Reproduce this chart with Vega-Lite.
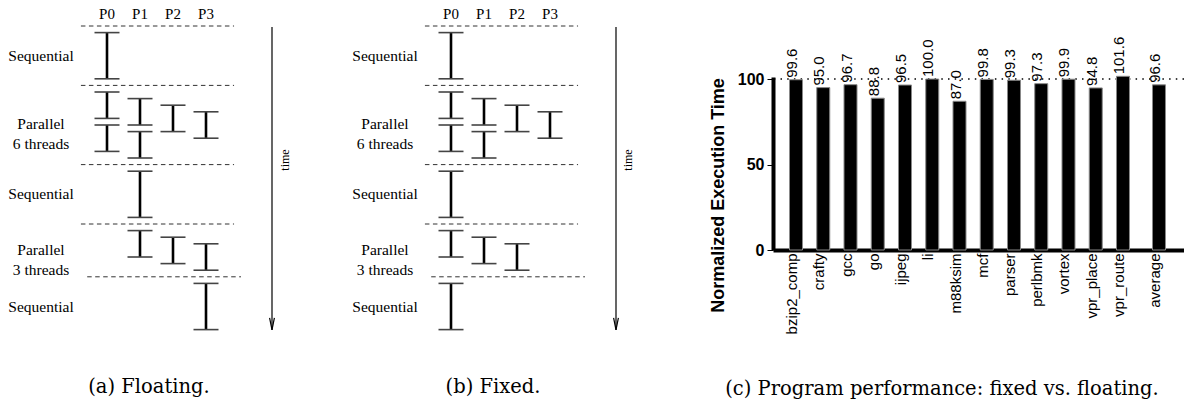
{
  "$schema": "https://vega.github.io/schema/vega-lite/v6.json",
  "padding": 0,
  "spacing": 0,
  "bounds": "flush",
  "center": true,
  "config": {"view": {"stroke": null}, "font": "Liberation Sans", "axis": {"grid": false}},
  "datasets": {
    "floating": [
      {"proc": 0, "start": 1, "end": 8},
      {"proc": 0, "start": 10, "end": 14},
      {"proc": 0, "start": 15, "end": 19},
      {"proc": 1, "start": 11, "end": 15},
      {"proc": 1, "start": 16, "end": 20},
      {"proc": 2, "start": 12, "end": 16},
      {"proc": 3, "start": 13, "end": 17},
      {"proc": 1, "start": 22, "end": 29},
      {"proc": 1, "start": 31, "end": 35},
      {"proc": 2, "start": 32, "end": 36},
      {"proc": 3, "start": 33, "end": 37},
      {"proc": 3, "start": 39, "end": 46}
    ],
    "fixed": [
      {"proc": 0, "start": 1, "end": 8},
      {"proc": 0, "start": 10, "end": 14},
      {"proc": 0, "start": 15, "end": 19},
      {"proc": 1, "start": 11, "end": 15},
      {"proc": 1, "start": 16, "end": 20},
      {"proc": 2, "start": 12, "end": 16},
      {"proc": 3, "start": 13, "end": 17},
      {"proc": 0, "start": 22, "end": 29},
      {"proc": 0, "start": 31, "end": 35},
      {"proc": 1, "start": 32, "end": 36},
      {"proc": 2, "start": 33, "end": 37},
      {"proc": 0, "start": 39, "end": 46}
    ],
    "bounds": [
      {"from": -0.79, "to": 3.85, "at": 0},
      {"from": -0.79, "to": 3.85, "at": 9},
      {"from": -0.79, "to": 3.85, "at": 21},
      {"from": -0.79, "to": 3.85, "at": 30},
      {"from": -0.6, "to": 4.06, "at": 38}
    ],
    "phases": [
      {"mid": 4.5, "label": "Sequential"},
      {"mid": 14.8, "label": "Parallel\n6 threads"},
      {"mid": 25.5, "label": "Sequential"},
      {"mid": 33.9, "label": "Parallel\n3 threads"},
      {"mid": 42.5, "label": "Sequential"}
    ],
    "procs": [
      {"proc": 0, "name": "P0"},
      {"proc": 1, "name": "P1"},
      {"proc": 2, "name": "P2"},
      {"proc": 3, "name": "P3"}
    ],
    "perf": [
      {"bench": "bzip2_comp", "time": 99.6, "group": "benchmark"},
      {"bench": "crafty", "time": 95.0, "group": "benchmark"},
      {"bench": "gcc", "time": 96.7, "group": "benchmark"},
      {"bench": "go", "time": 88.8, "group": "benchmark"},
      {"bench": "ijpeg", "time": 96.5, "group": "benchmark"},
      {"bench": "li", "time": 100.0, "group": "benchmark"},
      {"bench": "m88ksim", "time": 87.0, "group": "benchmark"},
      {"bench": "mcf", "time": 99.8, "group": "benchmark"},
      {"bench": "parser", "time": 99.3, "group": "benchmark"},
      {"bench": "perlbmk", "time": 97.3, "group": "benchmark"},
      {"bench": "vortex", "time": 99.9, "group": "benchmark"},
      {"bench": "vpr_place", "time": 94.8, "group": "benchmark"},
      {"bench": "vpr_route", "time": 101.6, "group": "benchmark"},
      {"bench": "average", "time": 96.6, "group": "summary"}
    ]
  },
  "hconcat": [
    {
      "width": 344,
      "height": 327,
      "title": {"text": "(a) Floating.", "orient": "bottom", "anchor": "middle", "offset": 46, "dx": -23, "font": "DejaVu Serif", "fontSize": 19.5, "fontWeight": "normal", "color": "black"},
      "layer": [
        {
          "data": {"name": "bounds"},
          "mark": {"type": "rule", "color": "#333", "strokeWidth": 1, "strokeDash": [4.5, 3.5]},
          "encoding": {
            "x": {"field": "from", "type": "quantitative", "scale": {"domain": [-3.2424, 7.1818], "nice": false, "zero": false}, "axis": null},
            "x2": {"field": "to"},
            "y": {"field": "at", "type": "quantitative", "scale": {"domain": [-3.9394, 45.606], "reverse": true, "nice": false, "zero": false}, "axis": null}
          }
        },
        {
          "data": {"name": "floating"},
          "mark": {"type": "rule", "color": "black", "strokeWidth": 2.6},
          "encoding": {
            "x": {"field": "proc", "type": "quantitative"},
            "y": {"field": "start", "type": "quantitative"},
            "y2": {"field": "end"}
          }
        },
        {
          "data": {"name": "floating"},
          "mark": {"type": "tick", "orient": "horizontal", "size": 25, "thickness": 1.6, "color": "#444", "opacity": 1},
          "encoding": {
            "x": {"field": "proc", "type": "quantitative"},
            "y": {"field": "start", "type": "quantitative"}
          }
        },
        {
          "data": {"name": "floating"},
          "mark": {"type": "tick", "orient": "horizontal", "size": 25, "thickness": 1.6, "color": "#444", "opacity": 1},
          "encoding": {
            "x": {"field": "proc", "type": "quantitative"},
            "y": {"field": "end", "type": "quantitative"}
          }
        },
        {
          "data": {"name": "phases"},
          "mark": {"type": "text", "font": "Liberation Serif", "fontSize": 15.5, "lineBreak": "\n", "lineHeight": 20, "baseline": "middle", "align": "center", "color": "black"},
          "encoding": {
            "x": {"datum": -2},
            "y": {"field": "mid", "type": "quantitative"},
            "text": {"field": "label"}
          }
        },
        {
          "data": {"name": "procs"},
          "mark": {"type": "text", "font": "Liberation Serif", "fontSize": 15, "baseline": "middle", "align": "center", "color": "black"},
          "encoding": {
            "x": {"field": "proc", "type": "quantitative"},
            "y": {"datum": -1.75},
            "text": {"field": "name"}
          }
        },
        {
          "data": {"values": [{}]},
          "mark": {"type": "rule", "strokeWidth": 1.2, "color": "black"},
          "encoding": {"x": {"datum": 5}, "y": {"datum": 0.15}, "y2": {"datum": 46.06}}
        },
        {
          "data": {"values": [{}]},
          "mark": {"type": "point", "shape": "M-0.4,-1L0,1L0.4,-1", "filled": false, "size": 144, "stroke": "black", "strokeWidth": 1.2, "opacity": 1},
          "encoding": {"x": {"datum": 5}, "y": {"datum": 45.15}}
        },
        {
          "data": {"values": [{}]},
          "mark": {"type": "text", "text": "time", "angle": 270, "font": "Liberation Serif", "fontSize": 12, "align": "center", "baseline": "alphabetic", "color": "black"},
          "encoding": {"x": {"datum": 5.5}, "y": {"datum": 20.3}}
        }
      ]
    },
    {
      "width": 429,
      "height": 327,
      "title": {"text": "(b) Fixed.", "orient": "bottom", "anchor": "middle", "offset": 46, "dx": -65.5, "font": "DejaVu Serif", "fontSize": 19.5, "fontWeight": "normal", "color": "black"},
      "layer": [
        {
          "data": {"name": "bounds"},
          "mark": {"type": "rule", "color": "#333", "strokeWidth": 1, "strokeDash": [4.5, 3.5]},
          "encoding": {
            "x": {"field": "from", "type": "quantitative", "scale": {"domain": [-3.2424, 9.7576], "nice": false, "zero": false}, "axis": null},
            "x2": {"field": "to"},
            "y": {"field": "at", "type": "quantitative", "scale": {"domain": [-3.9394, 45.606], "reverse": true, "nice": false, "zero": false}, "axis": null}
          }
        },
        {
          "data": {"name": "fixed"},
          "mark": {"type": "rule", "color": "black", "strokeWidth": 2.6},
          "encoding": {
            "x": {"field": "proc", "type": "quantitative"},
            "y": {"field": "start", "type": "quantitative"},
            "y2": {"field": "end"}
          }
        },
        {
          "data": {"name": "fixed"},
          "mark": {"type": "tick", "orient": "horizontal", "size": 25, "thickness": 1.6, "color": "#444", "opacity": 1},
          "encoding": {
            "x": {"field": "proc", "type": "quantitative"},
            "y": {"field": "start", "type": "quantitative"}
          }
        },
        {
          "data": {"name": "fixed"},
          "mark": {"type": "tick", "orient": "horizontal", "size": 25, "thickness": 1.6, "color": "#444", "opacity": 1},
          "encoding": {
            "x": {"field": "proc", "type": "quantitative"},
            "y": {"field": "end", "type": "quantitative"}
          }
        },
        {
          "data": {"name": "phases"},
          "mark": {"type": "text", "font": "Liberation Serif", "fontSize": 15.5, "lineBreak": "\n", "lineHeight": 20, "baseline": "middle", "align": "center", "color": "black"},
          "encoding": {
            "x": {"datum": -2},
            "y": {"field": "mid", "type": "quantitative"},
            "text": {"field": "label"}
          }
        },
        {
          "data": {"name": "procs"},
          "mark": {"type": "text", "font": "Liberation Serif", "fontSize": 15, "baseline": "middle", "align": "center", "color": "black"},
          "encoding": {
            "x": {"field": "proc", "type": "quantitative"},
            "y": {"datum": -1.75},
            "text": {"field": "name"}
          }
        },
        {
          "data": {"values": [{}]},
          "mark": {"type": "rule", "strokeWidth": 1.2, "color": "black"},
          "encoding": {"x": {"datum": 5}, "y": {"datum": 0.15}, "y2": {"datum": 46.06}}
        },
        {
          "data": {"values": [{}]},
          "mark": {"type": "point", "shape": "M-0.4,-1L0,1L0.4,-1", "filled": false, "size": 144, "stroke": "black", "strokeWidth": 1.2, "opacity": 1},
          "encoding": {"x": {"datum": 5}, "y": {"datum": 45.15}}
        },
        {
          "data": {"values": [{}]},
          "mark": {"type": "text", "text": "time", "angle": 270, "font": "Liberation Serif", "fontSize": 12, "align": "center", "baseline": "alphabetic", "color": "black"},
          "encoding": {"x": {"datum": 5.5}, "y": {"datum": 20.3}}
        }
      ]
    },
    {
      "width": 411,
      "height": 173,
      "title": {"text": "(c) Program performance: fixed vs. floating.", "orient": "bottom", "anchor": "middle", "offset": 46, "dx": -36.5, "font": "DejaVu Serif", "fontSize": 19.5, "fontWeight": "normal", "color": "black"},
      "layer": [
        {
          "data": {"values": [{}]},
          "mark": {"type": "rule", "strokeDash": [1.5, 5.2], "strokeWidth": 1.5, "color": "black"},
          "encoding": {"y": {"datum": 100, "type": "quantitative"}}
        },
        {
          "data": {"name": "perf"},
          "mark": {"type": "bar", "width": 13, "fill": "black", "stroke": "#888", "strokeWidth": 1},
          "encoding": {
            "x": {
              "field": "bench", "type": "nominal", "sort": null,
              "scale": {"paddingInner": 0, "paddingOuter": 0.5413, "align": 0.3178},
              "axis": {
                "title": null, "labelAngle": 270, "labelAlign": "right", "labelBaseline": "alphabetic",
                "labelFont": "Liberation Sans", "labelFontSize": 15, "labelColor": "black", "labelPadding": 3,
                "ticks": false, "tickSize": 0, "domainColor": "black", "domainWidth": 4,
                "labelOffset": {"condition": {"test": "datum.value === 'average'", "value": 9.75}, "value": 1}
              }
            },
            "xOffset": {"field": "group", "type": "nominal", "scale": {"type": "point", "padding": 0, "domain": ["benchmark", "summary"], "range": [13.625, 22.375]}},
            "y": {
              "field": "time", "type": "quantitative",
              "scale": {"domain": [0, 101.2], "nice": false, "zero": false},
              "axis": {
                "title": "Normalized Execution Time", "values": [0, 50, 100],
                "titleFont": "Liberation Sans", "titleFontSize": 18, "titleFontWeight": "bold", "titleColor": "black",
                "titleAngle": 270, "titleX": -50, "titleY": 118, "titleAlign": "center", "titleBaseline": "alphabetic",
                "labelFont": "Liberation Sans", "labelFontSize": 16, "labelFontWeight": "bold", "labelColor": "black", "labelPadding": 3,
                "tickSize": 6, "tickColor": "black", "tickWidth": 1,
                "domainColor": "black", "domainWidth": 4
              }
            }
          }
        },
        {
          "data": {"name": "perf"},
          "mark": {"type": "text", "angle": 270, "align": "left", "baseline": "alphabetic", "dx": 2, "dy": 1, "font": "Liberation Sans", "fontSize": 15, "color": "black"},
          "encoding": {
            "x": {"field": "bench", "type": "nominal", "sort": null},
            "xOffset": {"field": "group", "type": "nominal"},
            "y": {"field": "time", "type": "quantitative"},
            "text": {"field": "time", "type": "quantitative", "format": ".1f"}
          }
        }
      ]
    }
  ]
}
